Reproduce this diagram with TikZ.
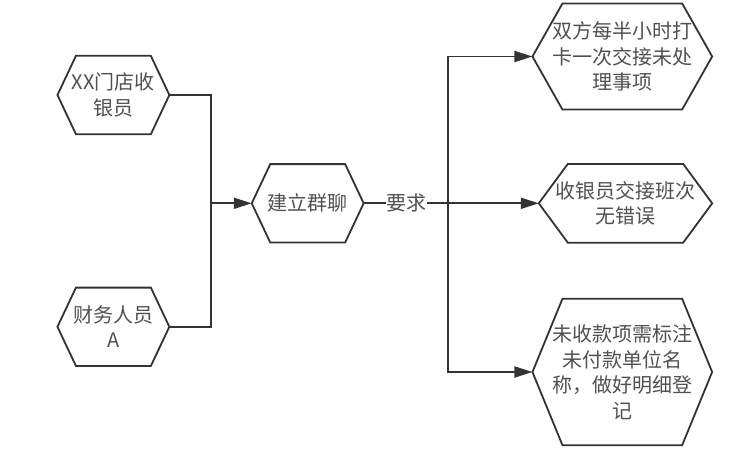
\documentclass[tikz,border=0pt]{standalone}
\usepackage{fontspec}
\setmainfont{Noto Sans CJK SC}
\usetikzlibrary{arrows.meta}
\definecolor{linegray}{HTML}{333333}
\definecolor{textgray}{HTML}{505050}
\tikzset{
	hexbox/.style={inner sep=0pt,align=center,text=textgray,font=\fontsize{20}{25.5}\selectfont},
	hexline/.style={draw=linegray,line width=1.8pt},
	link/.style={draw=linegray,line width=1.8pt},
	linkarrow/.style={link,-{Triangle[length=18pt,width=11pt]}}
}
% outline of a hexagon round a named node: node, chamfer
\newcommand{\hexoutline}[2]{\draw [hexline] (#1.west) -- ([xshift=#2pt]#1.north west) -- ([xshift=-#2pt]#1.north east) -- (#1.east) -- ([xshift=-#2pt]#1.south east) -- ([xshift=#2pt]#1.south west) -- cycle;}
\begin{document}
\begin{tikzpicture}[x=1pt,y=1pt]
	\useasboundingbox (0,0) rectangle (746,-461);
	\node [hexbox,minimum width=111.5pt,minimum height=78pt] (clerk) at (113.4,-95) {XX门店收\\银员};
	\hexoutline{clerk}{18.5}
	\node [hexbox,minimum width=111.5pt,minimum height=78pt] (finance) at (113.4,-326.8) {财务人员\\A};
	\hexoutline{finance}{18.5}
	\node [hexbox,minimum width=111.5pt,minimum height=78pt] (group) at (307.7,-203.3) {建立群聊};
	\hexoutline{group}{18.5}
	\node [hexbox,minimum width=179.3pt,minimum height=105.7pt] (handover) at (622.3,-56.5) {双方每半小时打\\卡一次交接未处\\理事项};
	\hexoutline{handover}{30}
	\node [hexbox,minimum width=173pt,minimum height=78.3pt] (shift) at (625.5,-203.3) {收银员交接班次\\无错误};
	\hexoutline{shift}{29}
	\node [hexbox,minimum width=179.3pt,minimum height=146pt] (unpaid) at (622.3,-372) {未收款项需标注\\未付款单位名\\称，做好明细登\\记};
	\hexoutline{unpaid}{30}
	\coordinate (merge) at (210.7,-203.3);
	\coordinate (split) at (448,-203.3);
	\node [hexbox,fill=white,minimum width=41pt,minimum height=22pt] (demand) at (406.7,-203.3) {要求};
	\draw [link] (clerk.east) -| (merge);
	\draw [link] (finance.east) -| (merge);
	\draw [linkarrow] (merge) -- (group.west);
	\draw [link] (group.east) -- (demand.west);
	\draw [link] (demand.east) -- (split);
	\draw [linkarrow] (split) |- (handover.west);
	\draw [linkarrow] (demand.east) -- (shift.west);
	\draw [linkarrow] (split) |- (unpaid.west);
\end{tikzpicture}
\end{document}
